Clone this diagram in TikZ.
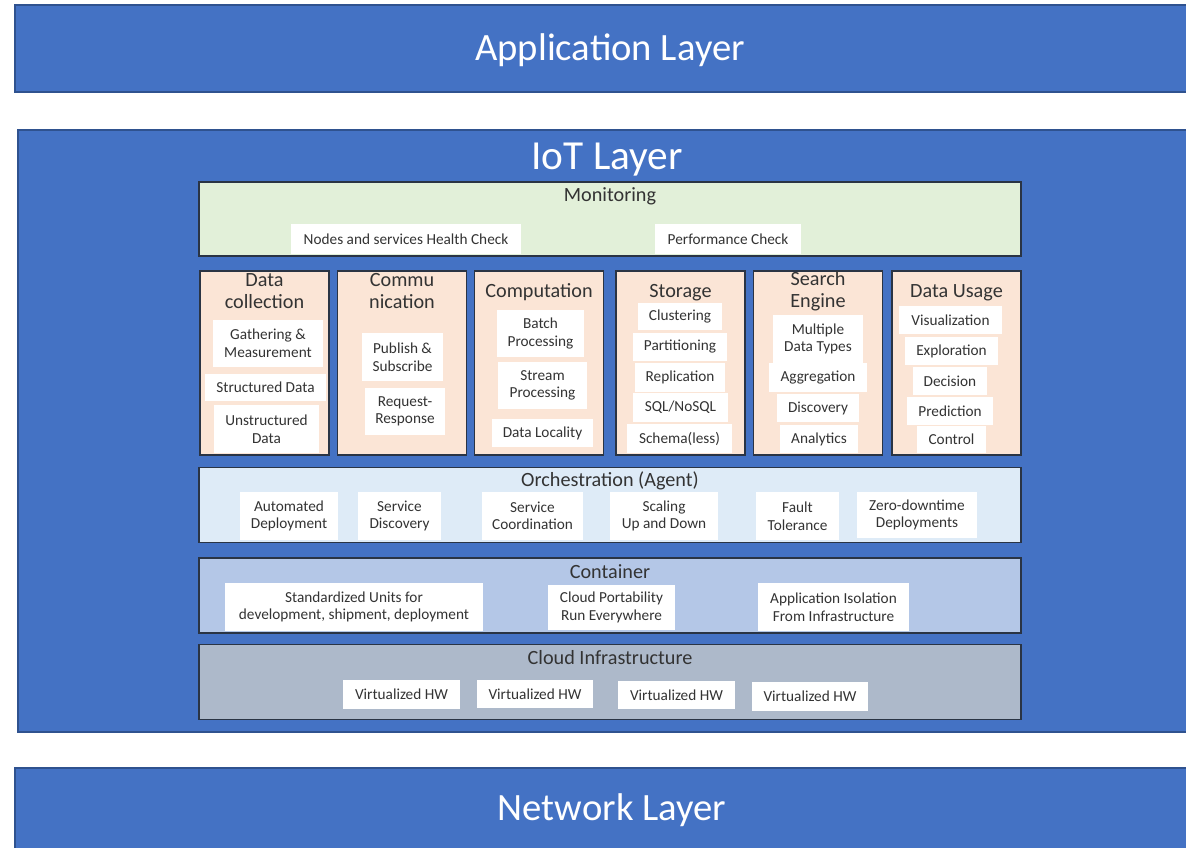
\documentclass[tikz,border=0pt]{standalone}
\usepackage{fontspec}
\setmainfont{Carlito}
\usetikzlibrary{positioning}
\definecolor{bandc}{HTML}{4472C4}
\definecolor{bandl}{HTML}{2F528F}
\definecolor{edgec}{HTML}{2A3444}
\definecolor{txtc}{HTML}{333333}
\definecolor{monbg}{HTML}{E2F0D9}
\definecolor{colbg}{HTML}{FBE5D6}
\definecolor{orchbg}{HTML}{DEEBF7}
\definecolor{contbg}{HTML}{B4C7E7}
\definecolor{cloudbg}{HTML}{ADB9CA}
\tikzset{
  sz/.style 2 args={minimum width=#1*0.02cm,minimum height=#2*0.02cm},
  band/.style={draw=bandl,fill=bandc,thick,inner sep=0pt},
  bandt/.style={text=white,font=\fontsize{22}{26}\selectfont},
  panel/.style={draw=edgec,line width=1.1pt,inner sep=0pt},
  ttl/.style={text=txtc,font=\fontsize{11.5}{12.5}\selectfont,align=center},
  item/.style={fill=white,text=txtc,inner sep=0pt,align=center,font=\fontsize{8.7}{10}\selectfont}
}

\begin{document}
\begin{tikzpicture}[x=0.02cm,y=-0.02cm]
\useasboundingbox (0,0) rectangle (1186,848);
\clip (0,0) rectangle (1186,848);
% layers
\node[band,sz={1176}{87}] (app) at (603,48.5) {};
\node[bandt] (appt) at (610,50) {Application Layer};
\node[band,sz={1173}{602}] (iot) at (604.5,431) {};
\node[bandt,font=\fontsize{23.5}{26}\selectfont] (iott) at (607,160) {IoT Layer};
\node[band,sz={1176}{84}] (net) at (603,810) {};
\node[bandt] (nett) at (612,810) {Network Layer};
% panels
\node[panel,fill=monbg,sz={822}{74}] (mon) at (610,219) {};
\node[ttl] (mont) at (610,196) {Monitoring};
\foreach \n/\x/\y/\t in {dc/264.5/291/{Data\\collection},cm/402/291/{Commu\\nication},
  cp/539/292/Computation,st/680.5/293/Storage,se/818/291/{Search\\Engine},du/956.5/293/{Data Usage}}{
 \node[panel,fill=colbg,sz={129}{184}] (\n) at (\x,363) {};
 \node[ttl] (\n t) at (\x,\y) {\t};}
\foreach \n/\f/\y/\t in {orch/orchbg/505/{Orchestration (Agent)},cont/contbg/595.5/Container,
  cloud/cloudbg/682/{Cloud Infrastructure}}{
 \node[panel,fill=\f,sz={822}{75}] (\n) at (610,\y) {};
 \node[ttl] (\n t) at (610,\y-24) {\t};}
% items
\foreach \n/\x/\y/\w/\h/\t in {
  hc/406/239/230/30/{Nodes and services Health Check},pc/728/239/146/30/{Performance Check},
  gm/268/343.5/110/47/{Gathering \&\\Measurement},sd/265.5/387.5/121/27/{Structured Data},
  ud/266.5/429/105/48/{Unstructured\\Data},
  ps/402.5/357/81/48/{Publish \&\\Subscribe},rr/405/411.5/80/47/{Request-\\Response},
  bp/540.5/333.5/87/47/{Batch\\Processing},sp/542.5/385.5/89/47/{Stream\\Processing},
  dl/542.5/433/101/28/{Data Locality},
  cl/680/316.5/84/27/Clustering,pa/680/347/94/28/Partitioning,re/680/377.5/90/29/Replication,
  sq/680.5/407.5/95/29/{SQL/NoSQL},sc/679.5/438.5/105/29/{Schema(less)},
  md/818/339/90/48/{Multiple\\Data Types},ag/818/377.5/98/29/Aggregation,
  di/818/408/82/28/Discovery,an/819/439/78/28/Analytics,
  vi/950.5/320/103/28/Visualization,ex/951.5/351/93/28/Exploration,de/950/381/74/28/Decision,
  pr/950/411/86/28/Prediction,co/951.5/439.5/69/27/Control,
  ad/289/516/98/48/{Automated\\Deployment},sdi/399.5/516/83/48/{Service\\Discovery},
  sco/532.5/516/101/48/{Service\\Coordination},su/664/516/108/48/{Scaling\\Up and Down},
  ft/797.5/516/83/48/{Fault\\Tolerance},zd/917/515/120/46/{Zero-downtime\\Deployments},
  un/354/607/258/48/{Standardized Units for\\development, shipment, deployment},
  po/611.5/607.5/127/45/{Cloud Portability\\Run Everywhere},
  ai/833.5/607/151/48/{Application Isolation\\From Infrastructure},
  hwa/401.5/694.5/117/29/{Virtualized HW},hwb/535/694/116/28/{Virtualized HW},
  hwc/676.5/695/117/28/{Virtualized HW},hwd/810/696.5/116/29/{Virtualized HW}}{
 \node[item,sz={\w}{\h}] (\n) at (\x,\y) {\t};}
\end{tikzpicture}
\end{document}
